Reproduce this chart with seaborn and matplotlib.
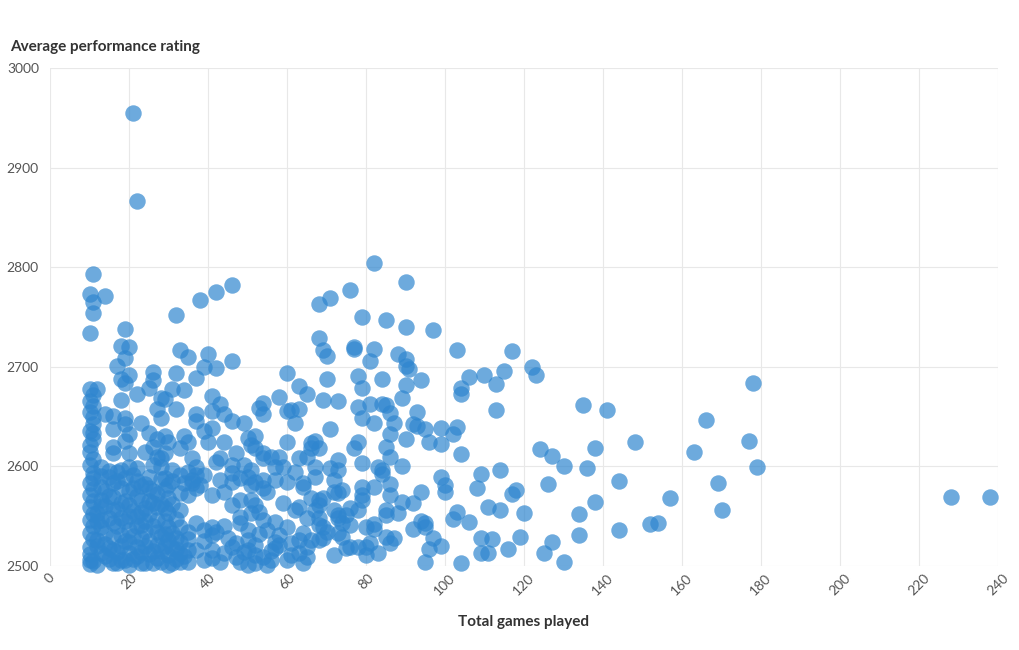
import matplotlib
matplotlib.use("Agg")
import matplotlib.pyplot as plt
import seaborn as sns
import pandas as pd

# --- data (games played, average performance rating) ---
# left column, 10-13 games
games_a = [11, 10, 11, 11, 10, 10, 12, 10, 10, 11,
           10, 11, 10, 10, 10, 11, 10, 10, 10, 10,
           10, 10, 10, 10, 11, 11, 11, 11, 11, 11,
           11, 11, 11, 11, 11, 10, 11, 12, 12, 13,
           13, 12, 13, 12, 13, 12]
rating_a = [2793, 2773, 2765, 2754, 2734, 2678, 2678, 2666, 2655, 2650,
            2636, 2634, 2621, 2614, 2601, 2593, 2583, 2571, 2559, 2546,
            2533, 2519, 2506, 2502, 2527, 2540, 2552, 2565, 2577, 2588,
            2607, 2628, 2643, 2661, 2672, 2512, 2505, 2520, 2545, 2579,
            2566, 2553, 2539, 2526, 2513, 2501]

# 13-36 games
games_b = [14, 19, 18, 20, 19, 17, 18, 20, 19, 26,
           26, 25, 22, 32, 33, 35, 32, 31, 34, 18,
           28, 29, 14, 16, 19, 19, 23, 27, 28, 32,
           16, 20, 19, 25, 27, 29, 30, 34, 35, 16,
           16, 20, 24, 26, 27, 29, 28, 33, 13, 15,
           17, 18, 20, 21, 22, 25, 26, 28, 29, 31,
           33, 35, 16, 16, 16, 16, 16, 16, 16, 20,
           20, 20, 20, 20, 20, 20, 23, 23, 23, 23,
           23, 23, 23, 27, 27, 27, 27, 27, 27, 30,
           30, 30, 30, 30, 30, 30, 33, 33, 33, 33,
           33, 33, 36, 14, 14, 15, 14, 15, 15, 18,
           18, 18, 18, 18, 18, 22, 21, 22, 21, 22,
           21, 25, 25, 25, 24, 25, 25, 24, 28, 28,
           29, 28, 28, 28, 31, 32, 31, 31, 32, 35,
           35, 35, 35, 35, 21, 22]
rating_b = [2771, 2738, 2721, 2720, 2709, 2701, 2688, 2692, 2684, 2695,
            2687, 2679, 2673, 2752, 2717, 2710, 2694, 2678, 2677, 2667,
            2669, 2668, 2653, 2651, 2649, 2643, 2644, 2658, 2649, 2658,
            2638, 2633, 2626, 2634, 2628, 2631, 2624, 2631, 2624, 2619,
            2613, 2613, 2614, 2619, 2609, 2613, 2608, 2618, 2599, 2589,
            2594, 2596, 2599, 2591, 2598, 2589, 2601, 2599, 2588, 2596,
            2591, 2594, 2583, 2569, 2556, 2543, 2529, 2516, 2503, 2575,
            2561, 2550, 2536, 2524, 2513, 2501, 2580, 2566, 2554, 2541,
            2528, 2514, 2503, 2572, 2559, 2546, 2534, 2521, 2508, 2581,
            2568, 2553, 2539, 2526, 2511, 2501, 2556, 2573, 2539, 2524,
            2513, 2504, 2583, 2575, 2560, 2548, 2533, 2518, 2507, 2578,
            2563, 2548, 2531, 2520, 2506, 2585, 2555, 2540, 2530, 2519,
            2507, 2578, 2565, 2552, 2535, 2525, 2512, 2503, 2587, 2562,
            2545, 2530, 2515, 2504, 2562, 2547, 2533, 2518, 2507, 2527,
            2571, 2534, 2516, 2504, 2955, 2866]

# extra points in the packed lower-left block
games_g = [13, 15, 17, 19, 21, 24, 26, 29, 31, 34,
           13, 15, 17, 19, 22, 24, 26, 29, 13, 17,
           19, 22, 24, 26, 29, 32, 14, 17, 19, 22,
           24, 26, 29, 32, 34, 14, 17, 19, 26, 31,
           39, 44, 47, 53, 56, 44]
rating_g = [2590, 2595, 2585, 2588, 2578, 2582, 2575, 2577, 2585, 2583,
            2560, 2570, 2557, 2565, 2570, 2558, 2563, 2558, 2546, 2540,
            2545, 2550, 2545, 2540, 2532, 2528, 2522, 2514, 2525, 2510,
            2520, 2515, 2520, 2517, 2510, 2510, 2503, 2506, 2503, 2503,
            2525, 2513, 2509, 2532, 2515, 2540]

# 36-60 games
games_c = [37, 39, 40, 42, 38, 42, 41, 46, 43, 53,
           46, 58, 37, 37, 41, 44, 46, 49, 54, 54,
           39, 41, 40, 44, 50, 52, 51, 52, 36, 37,
           42, 43, 47, 46, 49, 54, 54, 56, 58, 59,
           57, 37, 39, 36, 43, 46, 46, 48, 50, 51,
           52, 54, 57, 37, 38, 41, 44, 51, 54, 55,
           59, 46, 48, 51, 52, 53, 51, 48, 48, 54,
           57, 55, 58, 57, 58, 37, 39, 41, 41, 42,
           45, 46, 47, 49, 50, 50, 50, 52, 52, 54,
           56, 57, 37, 41, 41, 39, 43, 48, 50, 52,
           55]
rating_c = [2689, 2700, 2713, 2699, 2767, 2775, 2671, 2782, 2663, 2659,
            2706, 2670, 2653, 2646, 2656, 2653, 2646, 2644, 2653, 2664,
            2636, 2639, 2624, 2624, 2629, 2631, 2621, 2618, 2608, 2599,
            2604, 2608, 2613, 2601, 2601, 2613, 2608, 2609, 2609, 2599,
            2599, 2591, 2591, 2586, 2586, 2593, 2584, 2588, 2589, 2596,
            2584, 2586, 2586, 2578, 2581, 2571, 2574, 2581, 2578, 2574,
            2563, 2561, 2566, 2566, 2561, 2554, 2553, 2549, 2543, 2546,
            2544, 2536, 2531, 2524, 2521, 2543, 2536, 2539, 2531, 2534,
            2528, 2519, 2523, 2514, 2536, 2526, 2516, 2521, 2511, 2509,
            2506, 2518, 2516, 2516, 2508, 2506, 2504, 2504, 2501, 2503,
            2501]

# 60-84 games
games_d = [82, 68, 71, 76, 79, 68, 69, 70, 77, 77,
           82, 81, 60, 63, 65, 70, 78, 79, 84, 69,
           73, 81, 84, 61, 63, 78, 62, 79, 71, 66,
           67, 68, 66, 77, 78, 63, 65, 67, 67, 71,
           73, 73, 79, 62, 64, 64, 72, 72, 74, 73,
           79, 79, 79, 66, 68, 69, 63, 62, 67, 68,
           72, 73, 75, 76, 78, 65, 68, 68, 69, 70,
           73, 74, 76, 80, 60, 64, 63, 61, 66, 65,
           68, 69, 74, 73, 75, 76, 78, 80, 72, 61,
           63, 64, 65, 80, 60, 60, 60, 60, 82, 82,
           82, 81, 83, 82, 83, 84, 84]
rating_d = [2804, 2763, 2769, 2777, 2750, 2729, 2717, 2711, 2720, 2718,
            2718, 2706, 2694, 2681, 2673, 2688, 2691, 2679, 2688, 2667,
            2666, 2663, 2663, 2657, 2658, 2660, 2644, 2649, 2638, 2623,
            2626, 2618, 2618, 2618, 2624, 2608, 2609, 2599, 2589, 2598,
            2606, 2596, 2603, 2594, 2579, 2583, 2586, 2574, 2576, 2573,
            2579, 2566, 2571, 2568, 2566, 2568, 2559, 2556, 2556, 2561,
            2556, 2551, 2551, 2558, 2556, 2548, 2548, 2541, 2539, 2534,
            2548, 2543, 2541, 2539, 2539, 2533, 2526, 2523, 2526, 2519,
            2526, 2528, 2529, 2533, 2518, 2519, 2519, 2519, 2511, 2511,
            2513, 2503, 2509, 2511, 2506, 2584, 2656, 2624, 2644, 2542,
            2537, 2523, 2513, 2579, 2599, 2592, 2596]

# 85-130 games
games_e = [90, 85, 90, 97, 103, 117, 88, 90, 90, 91,
           94, 90, 89, 106, 110, 115, 113, 104, 104, 122,
           123, 113, 86, 87, 86, 93, 92, 93, 95, 99,
           103, 102, 90, 96, 99, 104, 85, 86, 89, 86,
           86, 94, 89, 92, 85, 85, 88, 92, 94, 95,
           95, 85, 86, 87, 97, 96, 99, 95, 99, 100,
           100, 104, 103, 102, 106, 109, 108, 114, 111, 114,
           117, 118, 120, 109, 112, 109, 111, 116, 119, 124,
           127, 130, 126, 127, 125, 130, 85]
rating_e = [2785, 2747, 2740, 2737, 2717, 2716, 2713, 2708, 2701, 2698,
            2687, 2682, 2669, 2690, 2692, 2696, 2683, 2679, 2673, 2700,
            2692, 2657, 2654, 2644, 2633, 2655, 2643, 2641, 2638, 2639,
            2640, 2633, 2628, 2624, 2622, 2612, 2619, 2609, 2600, 2582,
            2571, 2574, 2564, 2563, 2556, 2551, 2553, 2537, 2545, 2543,
            2539, 2529, 2523, 2528, 2528, 2517, 2520, 2504, 2589, 2581,
            2574, 2503, 2554, 2547, 2544, 2592, 2578, 2596, 2559, 2556,
            2572, 2576, 2553, 2528, 2527, 2513, 2513, 2517, 2529, 2617,
            2610, 2600, 2582, 2524, 2513, 2504, 2662]

# more than 130 games
games_f = [178, 135, 141, 166, 148, 177, 138, 163, 136, 179,
           144, 169, 228, 238, 157, 138, 170, 134, 152, 154,
           144, 134]
rating_f = [2684, 2662, 2657, 2647, 2624, 2626, 2618, 2614, 2598, 2599,
            2585, 2583, 2569, 2569, 2568, 2564, 2556, 2552, 2542, 2543,
            2536, 2531]

x_ticks = list(range(0, 241, 20))
y_ticks = list(range(2500, 3001, 100))

df = pd.DataFrame({
    "Total games played": games_a + games_b + games_g + games_c + games_d + games_e + games_f,
    "Average performance rating": rating_a + rating_b + rating_g + rating_c + rating_d + rating_e + rating_f,
})

sns.set_theme(style="whitegrid")
plt.rcParams["font.family"] = ["Lato", "DejaVu Sans"]

fig = plt.figure(figsize=(10.2, 6.5), dpi=100)
ax = fig.add_axes([50 / 1020, 1 - 566 / 650, 948 / 1020, 498 / 650])

sns.scatterplot(data=df, x="Total games played", y="Average performance rating",
                s=140, color="#2f86cf", alpha=0.7, linewidth=0, ax=ax, clip_on=False)

ax.set_xlim(0, 240)
ax.set_ylim(2500, 3000)
ax.set_xticks(x_ticks)
ax.set_yticks(y_ticks)
ax.set_xticklabels([str(t) for t in x_ticks], rotation=45, ha="center", va="top")
ax.tick_params(axis="both", length=0, labelsize=10, labelcolor="#555555")
ax.tick_params(axis="x", pad=4)
ax.tick_params(axis="y", pad=8)
ax.grid(True, color="#e8e8e8", linewidth=0.8)
for sp in ax.spines.values():
    sp.set_visible(False)
ax.set_xlabel("")
ax.set_ylabel("")

fig.text(10 / 1020, 1 - 47 / 650, "Average performance rating", fontsize=11,
         fontweight="bold", color="#333333", ha="left", va="center")
fig.text(524 / 1020, 1 - 622 / 650, "Total games played", fontsize=11,
         fontweight="bold", color="#333333", ha="center", va="center")

fig.savefig("out.png", dpi=100)
